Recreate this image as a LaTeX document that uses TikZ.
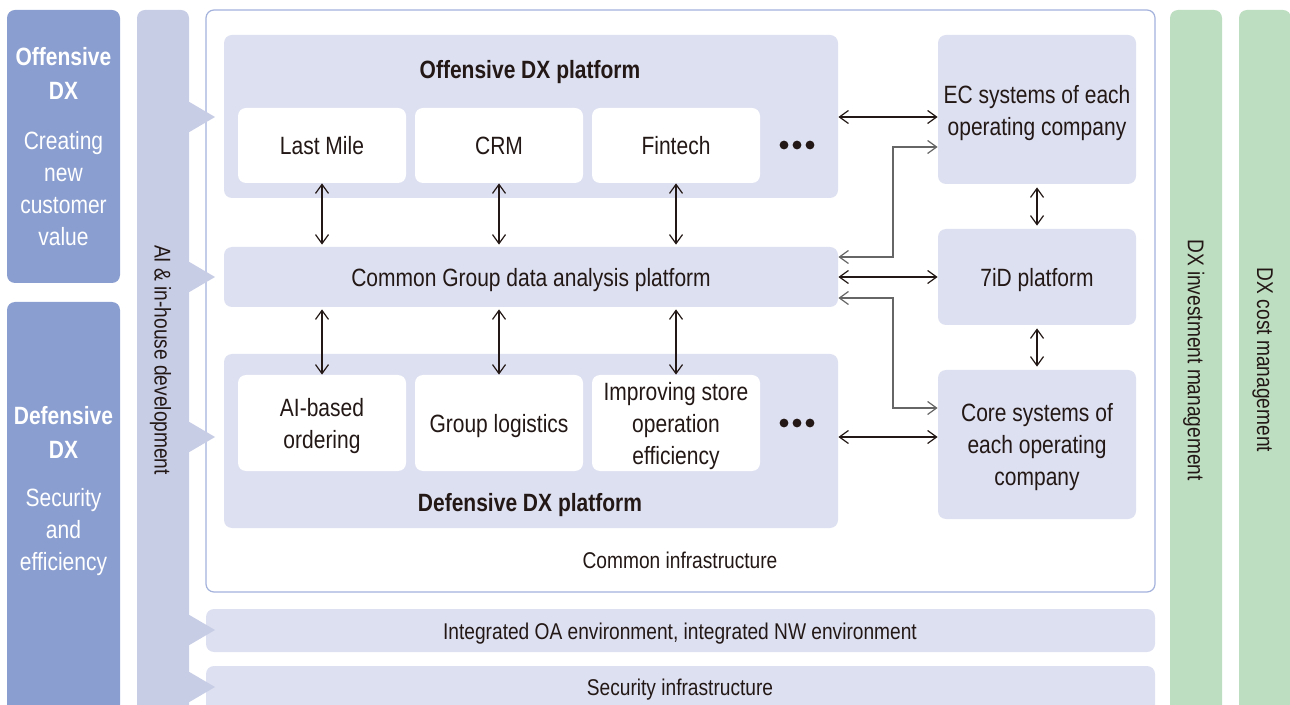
\documentclass[tikz,border=0pt]{standalone}
\usepackage{fontspec}
\setmainfont{Liberation Sans}[FakeStretch=0.84]
\usetikzlibrary{arrows.meta}
\definecolor{offc}{HTML}{8A9ECF}
\definecolor{aic}{HTML}{C8CDE6}
\definecolor{platc}{HTML}{DDE0F1}
\definecolor{infrab}{HTML}{A4B2DC}
\definecolor{grn}{HTML}{BEDEC2}
\definecolor{txt}{HTML}{231815}
\definecolor{elb}{HTML}{666666}
\begin{document}
\begin{tikzpicture}[x=0.5pt,y=-0.5pt,
  font=\fontsize{12.5}{16}\selectfont, text=txt,
  sz/.style 2 args={minimum width=#1*0.5pt, minimum height=#2*0.5pt, inner sep=0pt},
  plat/.style={fill=platc, rounded corners=4pt},
  inbox/.style={fill=white, rounded corners=4pt, align=center, text depth=0pt},
  side/.style={fill=offc, rounded corners=4pt},
  aibar/.style={fill=aic, rounded corners=4pt},
  gbar/.style={fill=grn, rounded corners=4pt},
  wtxt/.style={text=white, align=center},
  small/.style={font=\fontsize{11.4}{14}\selectfont, text depth=0pt},
  dbl/.style={{Straight Barb[length=4.5pt,width=6.5pt]}-{Straight Barb[length=4.5pt,width=6.5pt]}, line width=0.6pt, draw=txt},
  dblg/.style={dbl, draw=elb},
]
\useasboundingbox (0,0) rectangle (1290,705);
\clip (0,0) rectangle (1290,705);

% left side boxes
\node[side, sz={113}{273}] (offL) at (63.5,146.5) {};
\node[side, sz={113}{418}] (defL) at (63.5,511) {};
\node[wtxt, font=\fontsize{12.5}{17}\selectfont\bfseries] (offT) at (63.5,73) {Offensive\\DX};
\node[wtxt] (offS) at (63.5,189) {Creating\\new\\customer\\value};
\node[wtxt, font=\fontsize{12.5}{17}\selectfont\bfseries] (defT) at (63.5,432) {Defensive\\DX};
\node[wtxt] (defS) at (63.5,532) {Security\\and\\efficiency};

% AI bar
\node[aibar, sz={52}{710}] (ai) at (163,365) {};
\node[small, rotate=-90] (aiT) at (163,360) {AI \& in-house development};

% green bars
\node[gbar, sz={52}{710}] (inv) at (1196,365) {};
\node[gbar, sz={52}{710}] (cost) at (1265,365) {};
\node[small, rotate=-90] (invT) at (1196,360) {DX investment management};
\node[small, rotate=-90] (costT) at (1265,360) {DX cost management};

% common infrastructure
\node[draw=infrab, line width=0.6pt, fill=white, rounded corners=4pt, sz={949}{582}] (infra) at (680.5,301) {};
\node[small] (infraT) at (680,560) {Common infrastructure};

% bottom bars
\node[plat, sz={949}{43}] (oa) at (680.5,630.5) {};
\node[small] (oaT) at (680,631) {Integrated OA environment, integrated NW environment};
\node[plat, sz={949}{60}] (sec) at (680.5,696) {};
\node[small] (secT) at (680,687) {Security infrastructure};

% arrows from AI bar
\foreach \yy in {117,277,437,630,687}{
  \fill[aic] (186,\yy-17) -- (215,\yy) -- (186,\yy+17) -- cycle;
}

% offensive platform
\node[plat, sz={614}{163}] (offP) at (531,116.5) {};
\node[font=\fontsize{12.5}{16}\selectfont\bfseries, text depth=0pt] (offPT) at (530,69) {Offensive DX platform};
\node[inbox, sz={168}{75}] (lm) at (322,145.5) {Last Mile};
\node[inbox, sz={168}{75}] (crm) at (499,145.5) {CRM};
\node[inbox, sz={168}{75}] (fin) at (676,145.5) {Fintech};
\foreach \xx in {784,797,810}{\fill[txt] (\xx,145) circle[radius=2.2pt];}

% common group
\node[plat, sz={614}{60}, text depth=0pt] (cgp) at (531,277) {Common Group data analysis platform};

% defensive platform
\node[plat, sz={614}{174}] (defP) at (531,441) {};
\node[font=\fontsize{12.5}{16}\selectfont\bfseries, text depth=0pt] (defPT) at (530,502) {Defensive DX platform};
\node[inbox, sz={168}{96}] (ai1) at (322,423) {AI-based\\ordering};
\node[inbox, sz={168}{96}] (gl) at (499,423) {Group logistics};
\node[inbox, sz={168}{96}] (ise) at (676,423) {Improving store\\operation\\efficiency};
\foreach \xx in {784,797,810}{\fill[txt] (\xx,423) circle[radius=2.2pt];}

% right boxes
\node[plat, sz={198}{149}] (ec) at (1037,109.5) {};
\node[align=center, text depth=0pt] (ecT) at (1037,110) {EC systems of each\\operating company};
\node[plat, sz={198}{96}, text depth=0pt] (id) at (1037,277) {7iD platform};
\node[plat, align=center, sz={198}{149}, text depth=0pt] (core) at (1037,444.5) {Core systems of\\each operating\\company};

% vertical arrows
\draw[dbl] (lm.south) -- ([yshift=1pt]lm.south |- cgp.north);
\draw[dbl] (crm.south) -- ([yshift=1pt]crm.south |- cgp.north);
\draw[dbl] (fin.south) -- ([yshift=1pt]fin.south |- cgp.north);
\draw[dbl] ([yshift=-1pt]ai1.north |- cgp.south) -- (ai1.north);
\draw[dbl] ([yshift=-1pt]gl.north |- cgp.south) -- (gl.north);
\draw[dbl] ([yshift=-1pt]ise.north |- cgp.south) -- (ise.north);
\draw[dbl, shorten >=1.5pt, shorten <=1.5pt] (ec.south) -- (id.north);
\draw[dbl, shorten >=1.5pt, shorten <=1.5pt] (id.south) -- (core.north);

% horizontal arrows
\draw[dbl] (offP.east |- 0,117) -- (ec.west |- 0,117);
\draw[dbl] (cgp.east) -- (id.west);
\draw[dbl] (defP.east |- 0,437) -- (core.west |- 0,437);
\draw[dblg] (cgp.east |- 0,257) -- (893,257) -- (893,147) -- (ec.west |- 0,147);
\draw[dblg] (cgp.east |- 0,298) -- (893,298) -- (893,408) -- (core.west |- 0,408);
\end{tikzpicture}
\end{document}
